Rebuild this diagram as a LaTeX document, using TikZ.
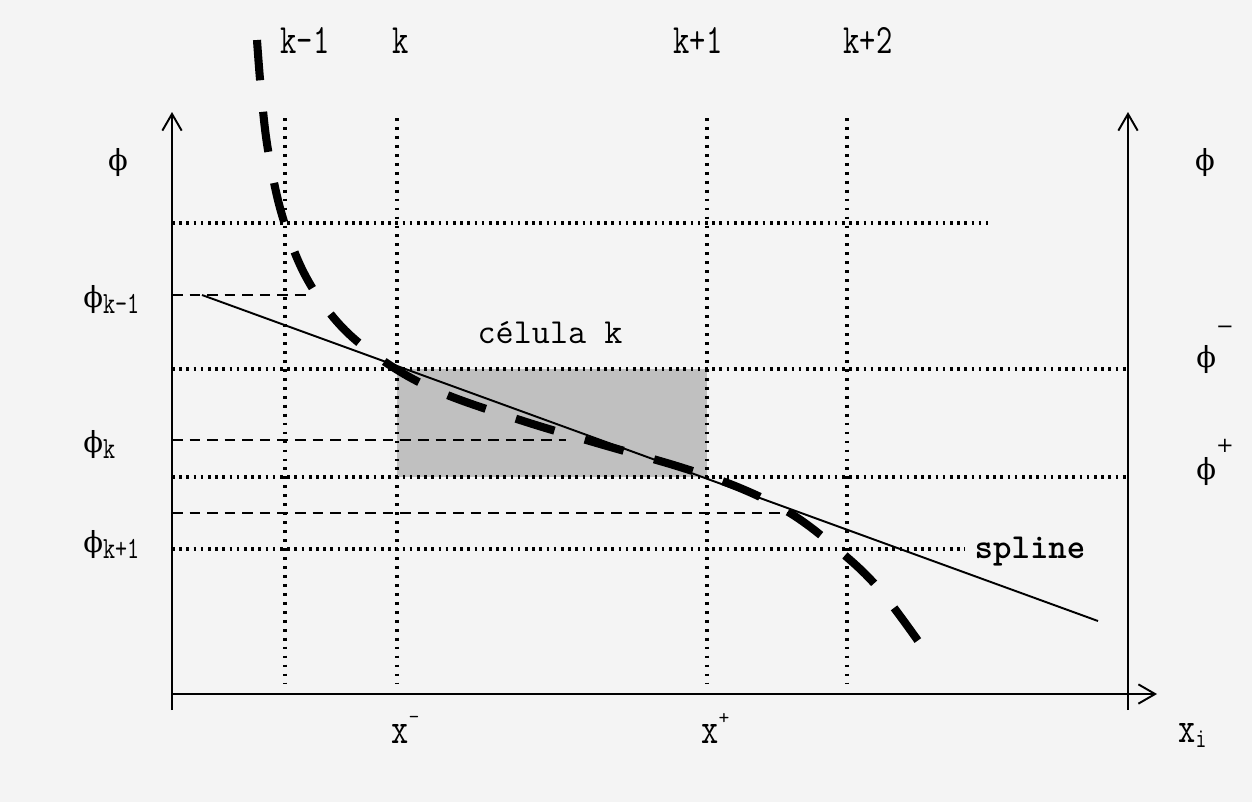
\documentclass[tikz,border=0pt]{standalone}
\usepackage{fontspec}
\usepackage{graphicx}
\usetikzlibrary{arrows.meta}
\newfontfamily\griega{DejaVu Serif}
\definecolor{fondo}{HTML}{F4F4F4}
\definecolor{celda}{HTML}{C0C0C0}
\newcommand{\phig}{{\griega\fontsize{16.5}{18}\selectfont ϕ}}
\newcommand{\estira}[1]{\scalebox{1}[1.32]{#1}}
\newcommand{\bajo}[1]{\raisebox{-3.5pt}{\fontsize{13.3}{14}\selectfont\ttfamily\estira{#1}}}
\newcommand{\signo}[2]{\raisebox{#1}{\griega\fontsize{12}{12}\selectfont #2}}
\tikzset{
  eje/.style={line width=1.1pt, -{Straight Barb[length=9.5pt,width=11pt,line width=1.1pt]}},
  rejillav/.style={line width=2pt, dash pattern=on 1.6pt off 3.5pt},
  rejillah/.style={line width=2pt, dash pattern=on 1.5pt off 2.6pt},
  nivel/.style={line width=1.4pt, dash pattern=on 6pt off 4pt},
  curva/.style={line width=4.6pt, dash pattern=on 23pt off 18pt},
  etq/.style={inner sep=0pt, font=\fontsize{18}{20}\selectfont\ttfamily},
}
\begin{document}
\begin{tikzpicture}[x=0.02cm, y=-0.02cm]
    \useasboundingbox (0,0) rectangle (1252,802);
    \fill[fondo] (0,0) rectangle (1252,802);
    % celda k sombreada
    \fill[celda] (397,369) rectangle (707,477);
    % rejilla vertical con los indices
    \foreach \x/\xl/\lab in {285/305/k-1, 397/401/k, 707/698/k+1, 847/868/k+2} {
        \draw[rejillav] (\x,118) -- (\x,684);
        \node[etq, anchor=base] at (\xl,53) {\estira{\lab}};
    }
    % rejilla horizontal
    \foreach \y/\xe in {223/988, 369/1128, 477/1128, 549/965} {
        \draw[rejillah] (172,\y) -- (\xe,\y);
    }
    % niveles phi_k
    \foreach \y/\xe in {295/307, 440/566, 513/790} {
        \draw[nivel] (172,\y) -- (\xe,\y);
    }
    % recta y curva
    \draw[line width=1.1pt] (202,295) -- (1098,621);
    \draw[curva] plot[smooth, tension=0.6] coordinates {(257,40) (261,90) (268,150)
        (282,215) (305,275) (340,325) (385,362) (440,392) (520,420) (600,444)
        (680,467) (740,488) (790,513) (835,547) (880,590) (933,662)};
    % ejes
    \coordinate (ejeAbajo) at (172,710);
    \coordinate (ejeArriba) at (172,112);
    \coordinate (origen) at (172,694);
    \coordinate (ejeFin) at (1157,694);
    \coordinate (derAbajo) at (1128,710);
    \coordinate (derArriba) at (1128,112);
    \draw[eje] (ejeAbajo) -- (ejeArriba);
    \draw[eje] (origen) -- (ejeFin);
    \draw[eje, line width=0.9pt] (derAbajo) -- (derArriba);
    % etiquetas
    \node[etq, anchor=base] (phiIzq) at (118,170) {\phig};
    \node[etq, anchor=base] (phiDer) at (1205,170) {\phig};
    \node[etq, anchor=base west] (phiKm) at (83,307) {\phig\bajo{k-1}};
    \node[etq, anchor=base west] (phiK) at (83,452) {\phig\bajo{k}};
    \node[etq, anchor=base west] (phiKp) at (83,552) {\phig\bajo{k+1}};
    \node[etq, anchor=base west] (phiMenos) at (1196,367) {\phig\signo{19pt}{−}};
    \node[etq, anchor=base west] (phiMas) at (1196,479) {\phig\signo{15.3pt}{+}};
    \node[etq, anchor=base, font=\fontsize{20}{22}\selectfont\ttfamily] (celula) at (550,343) {célula k};
    \node[etq, font=\fontsize{20}{22}\selectfont\ttfamily\bfseries] (spline) at (1030,552) {spline};
    \node[etq, anchor=base west] (xMenos) at (391,743)
        {\estira{\fontsize{19}{20}\selectfont x}\raisebox{11pt}{\fontsize{12}{12}\selectfont -}};
    \node[etq, anchor=base west] (xMas) at (701,743)
        {\estira{\fontsize{19}{20}\selectfont x}\raisebox{10.5pt}{\fontsize{12}{12}\selectfont +}};
    \node[etq, anchor=base west] (xi) at (1178,742)
        {\estira{\fontsize{19}{20}\selectfont x}\raisebox{-3pt}{\fontsize{12}{12}\selectfont\estira{i}}};
\end{tikzpicture}
\end{document}
